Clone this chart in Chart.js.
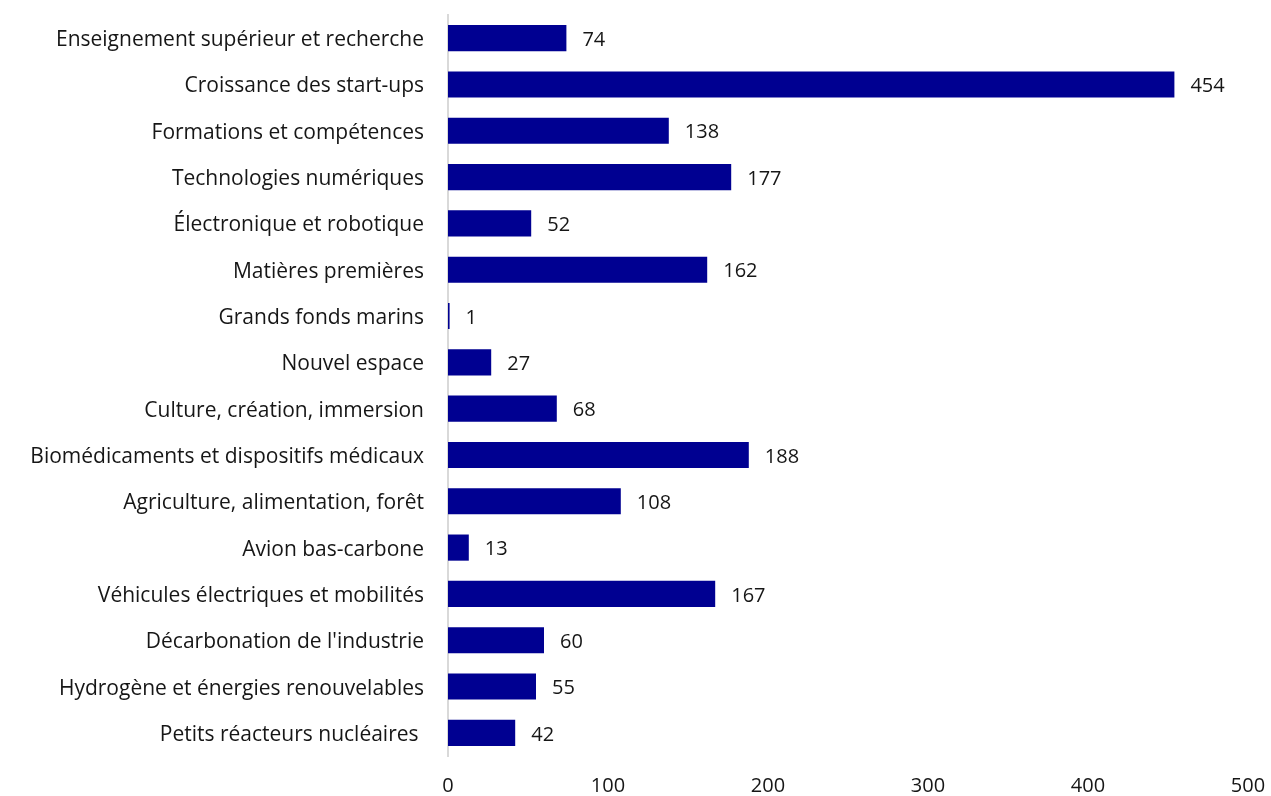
<!DOCTYPE html>
<html>
<head>
<meta charset="utf-8">
<script src="https://cdn.jsdelivr.net/npm/chart.js@4"></script>
<style>
  html, body { margin: 0; padding: 0; background: #fff; }
  #wrap { width: 1271px; height: 796px; position: relative; }
</style>
</head>
<body>
<div id="wrap"><canvas id="chart"></canvas></div>
<script>
const labels = [
  'Enseignement supérieur et recherche',
  'Croissance des start-ups',
  'Formations et compétences',
  'Technologies numériques',
  'Électronique et robotique',
  'Matières premières',
  'Grands fonds marins',
  'Nouvel espace',
  'Culture, création, immersion',
  'Biomédicaments et dispositifs médicaux',
  'Agriculture, alimentation, forêt',
  'Avion bas-carbone',
  'Véhicules électriques et mobilités',
  "Décarbonation de l'industrie",
  'Hydrogène et énergies renouvelables',
  'Petits réacteurs nucléaires '
];
const values = [74, 454, 138, 177, 52, 162, 1, 27, 68, 188, 108, 13, 167, 60, 55, 42];
const xTicks = [0, 100, 200, 300, 400, 500];

const FONT = '"Open Sans", sans-serif';

// value labels to the right of each bar
const valueLabels = {
  id: 'valueLabels',
  afterDatasetsDraw(chart){
    const c = chart.ctx;
    const meta = chart.getDatasetMeta(0);
    c.save();
    c.font = '20px ' + FONT;
    c.fillStyle = '#161616';
    c.textBaseline = 'middle';
    c.textAlign = 'left';
    meta.data.forEach((bar, i)=>{
      c.fillText(String(values[i]), bar.x + 16, bar.y + 2);
    });
    c.restore();
  }
};

const ctx = document.getElementById('chart').getContext('2d');
new Chart(ctx, {
  type: 'bar',
  data: {
    labels,
    datasets: [{
      data: values,
      backgroundColor: '#000091',
      borderWidth: 0,
      categoryPercentage: 1,
      barPercentage: 0.565
    }]
  },
  options: {
    indexAxis: 'y',
    animation: false,
    responsive: true,
    maintainAspectRatio: false,
    layout: { padding: { top: 15, right: 23, left: 0, bottom: 0 } },
    plugins: { legend: { display: false }, tooltip: { enabled: false } },
    scales: {
      x: {
        min: 0, max: 500,
        afterBuildTicks(axis){ axis.ticks = xTicks.map(v=>({value:v})); },
        grid: { display: false, drawTicks: false },
        border: { display: false },
        ticks: { color: '#161616', font: { family: FONT, size: 20 }, padding: 18 },
        afterFit(axis){ axis.height = 40; axis.paddingLeft = 0; axis.paddingRight = 0; }
      },
      y: {
        grid: { display: false, drawTicks: false },
        border: { display: true, color: '#d9d9d9', width: 2 },
        ticks: { color: '#161616', font: { family: FONT, size: 21 }, padding: 24, labelOffset: 2 },
        afterFit(axis){ axis.width = 448; axis.paddingTop = 0; axis.paddingBottom = 0; }
      }
    }
  },
  plugins: [valueLabels]
});
</script>
</body>
</html>
